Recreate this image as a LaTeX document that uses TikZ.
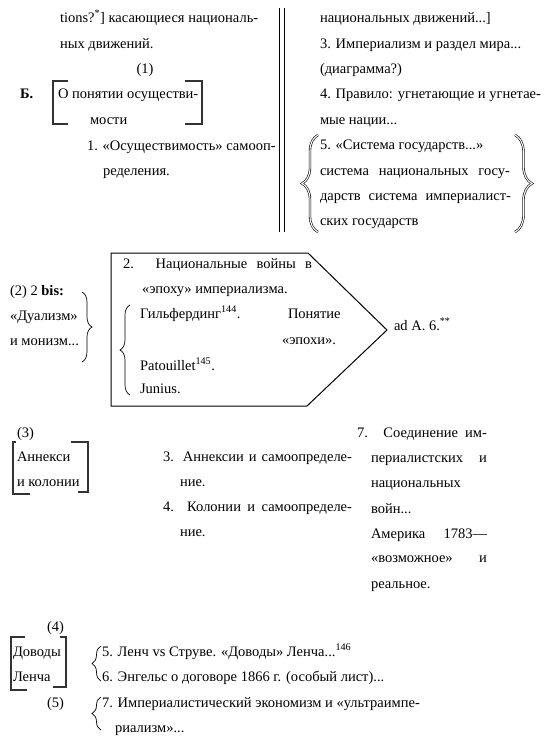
\documentclass[tikz,border=0pt]{standalone}
\usepackage{fontspec}
\setmainfont{Liberation Serif}
\usepackage{tikz}
\usetikzlibrary{decorations.pathreplacing}

\tikzset{
  txt/.style={anchor=base west, inner sep=0pt, outer sep=0pt},
  brk/.style={line width=1.1pt, draw=black!80},
  brc/.style={decorate, decoration={brace, amplitude=#1}, line width=0.7pt},
  dbrc/.style={brc=#1, double, double distance=1.1pt, line width=0.6pt},
}
% justified line of given width
\newcommand{\jl}[2]{\makebox[#1pt][s]{#2}}

\begin{document}
\begin{tikzpicture}[x=1pt, y=-1pt, font=\fontsize{14.5}{17}\selectfont]
    \useasboundingbox (0,0) rectangle (548,742);
    %%
    %% top left column
    \node[txt] (tions) at (60,22) {tions?\textsuperscript{*}] касающиеся националь-};
    \node[txt] (dvizh) at (60,48) {ных движений.};
    \node[anchor=base, inner sep=0pt] (one) at (145,73) {(1)};
    \node[txt] (B) at (20,98) {\textbf{Б.}};
    \node[txt] (osu) at (58,98) {О понятии осуществи-};
    \node[txt] (mosti) at (90,124) {мости};
    \node[txt] (item1) at (87,150) {1. «Осуществимость» самооп-};
    \node[txt] (item1b) at (103,175) {ределения.};
    \draw[brk]
    (68,81) -- (53,81) -- (53,124) -- (68,124)
    (185,81) -- (202,81) -- (202,124) -- (185,124)
    ;
    %% double rule
    \draw[line width=1.8pt] (279.5,8) -- (279.5,232) (284.5,8) -- (284.5,232);
    %% top right column
    \foreach \X/\Y/\T in {1/22/{национальных движений...]},
                          2/48/{3. Империализм и раздел мира...},
                          3/73/{(диаграмма?)},
                          4/98/{4. Правило: угнетающие и угнетае-},
                          5/124/{мые нации...},
                          6/149/{5. «Система государств...»},
                          9/225/{ских государств}}
    {
    \node[txt] (r\X) at (320,\Y) {\T};
    }
    \node[txt] (r7) at (320,175) {\jl{190}{система национальных госу-}};
    \node[txt] (r8) at (320,200) {\jl{191}{дарств система империалист-}};
    \draw[dbrc=16] (318,232) -- (318,135);
    \draw[dbrc=17] (515,135) -- (515,232);
    %%
    %% middle: pentagon
    \node[txt] (bis) at (10,295) {(2) 2 \textbf{bis:}};
    \node[txt] (dual) at (10,320) {«Дуализм»};
    \node[txt] (monizm) at (10,345) {и монизм...};
    \draw[brc=10] (82,292) -- (82,362);
    \draw[line width=1pt] (111,253) -- (308,253) -- (387,330) -- (307,406) -- (111,406) -- cycle;
    \node[txt] (war1) at (123,268) {\jl{189}{2. Национальные войны в}};
    \node[txt] (war2) at (142,293) {«эпоху» империализма.};
    \node[txt] (hilf) at (140,318) {Гильфердинг\textsuperscript{144}.};
    \node[txt] (pon) at (288,318) {Понятие};
    \node[txt] (epoh) at (282,344) {«эпохи».};
    \node[txt] (pat) at (140,370) {Patouillet\textsuperscript{145}.};
    \node[txt] (jun) at (140,393) {Junius.};
    \draw[brc=10] (130,395) -- (130,305);
    \node[txt] (ad) at (394,330) {ad A. 6.\textsuperscript{**}};
    %%
    %% (3)
    \node[txt] (n3) at (17,437) {(3)};
    \node[txt] (ann) at (17,461) {Аннекси};
    \node[txt] (kol) at (17,486) {и колонии};
    \draw[brk]
    (16,442) -- (13,442) -- (13,494) -- (30,494)
    (71,442) -- (88,442) -- (88,492) -- (78,492)
    ;
    \node[txt] (m1) at (163,461) {\jl{189}{3. Аннексии и самоопределе-}};
    \node[txt] (m2) at (180,486) {ние.};
    \node[txt] (m3) at (163,511) {\jl{189}{4. Колонии и самоопределе-}};
    \node[txt] (m4) at (180,536) {ние.};
    \node[txt] (s1) at (357,437) {\jl{130}{7. Соединение им-}};
    \node[txt] (s2) at (371,462) {\jl{116}{периалистских и}};
    \node[txt] (s3) at (371,487) {национальных};
    \node[txt] (s4) at (371,513) {войн...};
    \node[txt] (s5) at (371,538) {\jl{116}{Америка 1783—}};
    \node[txt] (s6) at (371,562) {\jl{116}{«возможное» и}};
    \node[txt] (s7) at (371,588) {реальное.};
    %%
    %% (4), (5)
    \node[txt] (n4) at (47,631) {(4)};
    \node[txt] (dov) at (13,656) {Доводы};
    \node[txt] (lench) at (13,681) {Ленча};
    \draw[brk]
    (25,637) -- (11,637) -- (11,690) -- (27,690)
    (60,637) -- (66,637) -- (66,687) -- (53,687)
    ;
    \node[txt] (f1) at (102,656) {5. Ленч vs Струве. «Доводы» Ленча...\textsuperscript{146}};
    \node[txt] (f2) at (102,681) {6. Энгельс о договоре 1866 г. (особый лист)...};
    \node[txt] (n5) at (47,707) {(5)};
    \node[txt] (f3) at (102,707) {7. Империалистический экономизм и «ультраимпе-};
    \node[txt] (f4) at (115,732) {риализм»...};
    \draw[brc=9] (101,681) -- (101,646);
    \draw[brc=9] (101,730) -- (101,697);
\end{tikzpicture}
\end{document}
